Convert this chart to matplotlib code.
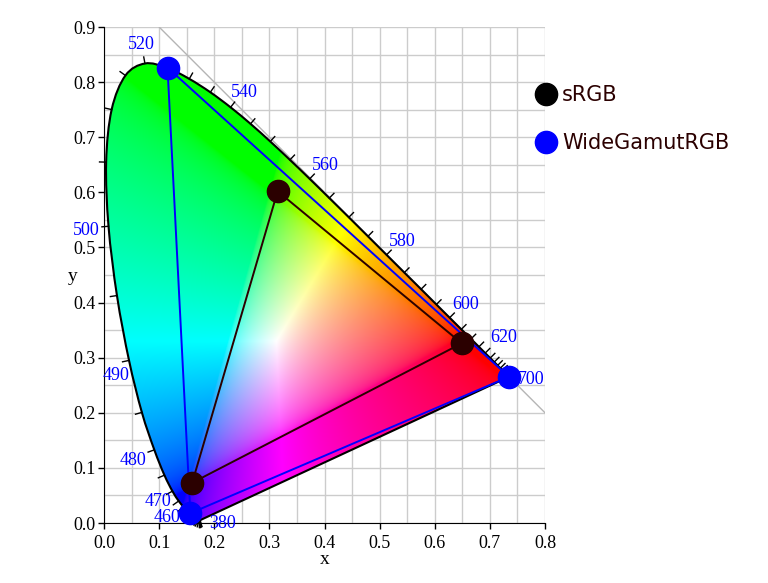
"""
CIE 1931 xy chromaticity diagram - sRGB vs WideGamutRGB gamut comparison
"""
import numpy as np
import matplotlib
matplotlib.use("Agg")
import matplotlib.pyplot as plt
from matplotlib.patches import PathPatch
from matplotlib.path import Path
from matplotlib.lines import Line2D

SERIF = ["Liberation Serif", "DejaVu Serif"]

# spectral locus, CIE 1931 2 deg, 5 nm steps
locus_nm = [380, 385, 390, 395, 400, 405, 410, 415, 420, 425, 430, 435, 440, 445,
            450, 455, 460, 465, 470, 475, 480, 485, 490, 495, 500, 505, 510, 515,
            520, 525, 530, 535, 540, 545, 550, 555, 560, 565, 570, 575, 580, 585,
            590, 595, 600, 605, 610, 615, 620, 625, 630, 635, 640, 645, 650, 655,
            660, 665, 670, 675, 680, 685, 690, 695, 700]
locus_x = [0.1741, 0.1740, 0.1738, 0.1736, 0.1733, 0.1730, 0.1726, 0.1721, 0.1714,
           0.1703, 0.1689, 0.1669, 0.1644, 0.1611, 0.1566, 0.1510, 0.1440, 0.1355,
           0.1241, 0.1096, 0.0913, 0.0687, 0.0454, 0.0235, 0.0082, 0.0039, 0.0139,
           0.0389, 0.0743, 0.1142, 0.1547, 0.1929, 0.2296, 0.2658, 0.3016, 0.3373,
           0.3731, 0.4087, 0.4441, 0.4788, 0.5125, 0.5448, 0.5752, 0.6029, 0.6270,
           0.6482, 0.6658, 0.6801, 0.6915, 0.7006, 0.7079, 0.7140, 0.7190, 0.7230,
           0.7260, 0.7283, 0.7300, 0.7311, 0.7320, 0.7327, 0.7334, 0.7340, 0.7344,
           0.7346, 0.7347]
locus_y = [0.0050, 0.0050, 0.0049, 0.0049, 0.0048, 0.0048, 0.0048, 0.0048, 0.0051,
           0.0058, 0.0069, 0.0086, 0.0109, 0.0138, 0.0177, 0.0227, 0.0297, 0.0399,
           0.0578, 0.0868, 0.1327, 0.2007, 0.2950, 0.4127, 0.5384, 0.6548, 0.7502,
           0.8120, 0.8338, 0.8262, 0.8059, 0.7816, 0.7543, 0.7243, 0.6923, 0.6589,
           0.6245, 0.5896, 0.5547, 0.5202, 0.4866, 0.4544, 0.4242, 0.3965, 0.3725,
           0.3514, 0.3340, 0.3197, 0.3083, 0.2993, 0.2920, 0.2859, 0.2809, 0.2770,
           0.2740, 0.2717, 0.2700, 0.2689, 0.2680, 0.2673, 0.2666, 0.2660, 0.2656,
           0.2654, 0.2653]
label_nm = [380, 460, 470, 480, 490, 500, 520, 540, 560, 580, 600, 620, 700]

# gamut primaries (R, G, B)
srgb_x = [0.649, 0.315, 0.160]
srgb_y = [0.326, 0.602, 0.073]
wide_x = [0.7347, 0.1152, 0.1566]
wide_y = [0.2653, 0.8264, 0.0177]

MAROON = "#2b0000"

lx = np.array(locus_x)
ly = np.array(locus_y)
pts = np.column_stack([lx, ly])

fig = plt.figure(figsize=(7.68, 5.83), dpi=100)
ax = fig.add_axes([104 / 768, 60 / 583, 441 / 768, 496 / 583])
ax.set_xlim(0, 0.8)
ax.set_ylim(0, 0.9)

# smooth horseshoe outline: bezier through the locus points, closed by the purple line
verts = [pts[0]]
codes = [Path.MOVETO]
n = len(pts)
for i in range(n - 1):
    p0 = pts[max(i - 1, 0)]
    p1 = pts[i]
    p2 = pts[i + 1]
    p3 = pts[min(i + 2, n - 1)]
    verts += [p1 + (p2 - p0) / 6, p2 - (p3 - p1) / 6, p2]
    codes += [Path.CURVE4] * 3
verts += [pts[0], pts[0]]
codes += [Path.LINETO, Path.CLOSEPOLY]
horseshoe = PathPatch(Path(verts, codes), facecolor="none", edgecolor="black",
                      linewidth=1.5, zorder=3)
ax.add_patch(horseshoe)

# colour fill of the horseshoe
gx, gy = np.meshgrid(np.linspace(0, 0.8, 480), np.linspace(0.001, 0.9, 540))
X = gx / gy
Z = (1 - gx - gy) / gy
M = np.array([[3.2406, -1.5372, -0.4986],
              [-0.9689, 1.8758, 0.0415],
              [0.0557, -0.2040, 1.0570]])
rgb = np.stack([M[i, 0] * X + M[i, 1] + M[i, 2] * Z for i in range(3)], axis=-1)
rgb = np.clip(rgb, 0, None)
rgb = rgb / np.maximum(rgb.max(axis=-1, keepdims=True), 1e-9)
rgb = np.where(rgb <= 0.0031308, 12.92 * rgb, 1.055 * rgb ** (1 / 2.4) - 0.055)
rgb = np.clip(rgb, 0, 1)
im = ax.imshow(rgb, origin="lower", extent=(0, 0.8, 0.001, 0.9),
               interpolation="bilinear", zorder=2, aspect="auto")
im.set_clip_path(horseshoe)

# grid, every 0.05
ax.set_xticks(np.arange(0, 0.81, 0.1))
ax.set_yticks(np.arange(0, 0.91, 0.1))
ax.set_xticks(np.arange(0.05, 0.8, 0.1), minor=True)
ax.set_yticks(np.arange(0.05, 0.9, 0.1), minor=True)
ax.grid(True, which="both", color="#cccccc", linewidth=1.0, zorder=0)
ax.set_axisbelow(True)
ax.tick_params(which="minor", length=0)
ax.tick_params(which="major", length=4, width=1, direction="out")
ax.tick_params(axis="x", pad=5)
ax.tick_params(axis="y", pad=2)
ax.set_xticklabels([f"{v:.1f}" for v in np.arange(0, 0.81, 0.1)], family=SERIF, fontsize=13)
ax.set_yticklabels([f"{v:.1f}" for v in np.arange(0, 0.91, 0.1)], family=SERIF, fontsize=13)
for s in ["top", "right"]:
    ax.spines[s].set_visible(False)
ax.set_xlabel("x", family=SERIF, fontsize=14, labelpad=-1)
ax.set_ylabel("y", family=SERIF, fontsize=14, rotation=0, labelpad=1)
ax.yaxis.set_label_coords(-0.072, 0.48)

# x + y = 1 line
ax.plot([0.1, 0.8], [0.9, 0.2], color="#b5b5b5", linewidth=1.0, zorder=1)

# wavelength ticks along locus
tx = np.gradient(lx)
ty = np.gradient(ly)
norm = np.hypot(tx, ty)
nx = np.where(norm > 1e-6, -ty / np.maximum(norm, 1e-9), 0)
ny = np.where(norm > 1e-6, tx / np.maximum(norm, 1e-9), -1)
for i in range(len(locus_nm)):
    ax.plot([lx[i], lx[i] + 0.012 * nx[i]], [ly[i], ly[i] + 0.012 * ny[i]],
            color="black", linewidth=1.0, zorder=3, clip_on=False)

for nm in label_nm:
    i = locus_nm.index(nm)
    dx, dy = nx[i], ny[i]
    dist = 16
    shift = -2
    if nm in (380, 700):
        dx, dy = 1.0, 0.0
    if nm == 490:
        dx, dy, dist = -0.7, -0.7, 13
    if nm == 620:
        dist = 19
    if nm == 470:
        dist = 12
    if nm == 460:
        shift = 3
    ax.annotate(str(nm), (lx[i], ly[i]), xytext=(dist * dx, dist * dy + shift),
                textcoords="offset points", ha="center", va="center",
                color="blue", family=SERIF, fontsize=13, zorder=4,
                annotation_clip=False)

# gamut triangles
ax.fill(wide_x, wide_y, facecolor="none", edgecolor="blue", linewidth=1.4, zorder=5)
ax.fill(srgb_x, srgb_y, facecolor="none", edgecolor=MAROON, linewidth=1.4, zorder=5)
ax.plot(srgb_x, srgb_y, "o", color=MAROON, markersize=16, zorder=6, clip_on=False)
ax.plot(wide_x, wide_y, "o", color="blue", markersize=16, zorder=7, clip_on=False)

handles = [Line2D([], [], marker="o", linestyle="none", color="black", markersize=16),
           Line2D([], [], marker="o", linestyle="none", color="blue", markersize=16)]
leg = ax.legend(handles, ["sRGB", "WideGamutRGB"], loc="upper left",
                bbox_to_anchor=(0.979, 0.883), frameon=False, fontsize=15,
                handlelength=1.0, handletextpad=0.27, labelspacing=1.34,
                borderpad=0, borderaxespad=0)
for t in leg.get_texts():
    t.set_color(MAROON)

fig.savefig("out.png", dpi=100)
